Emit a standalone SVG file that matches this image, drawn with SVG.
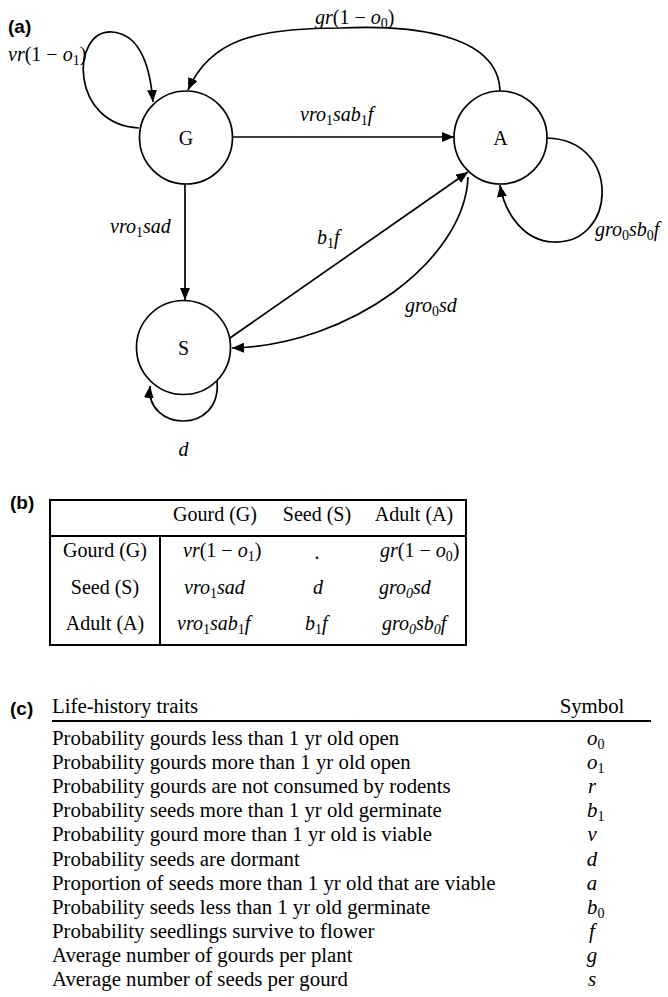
<svg xmlns="http://www.w3.org/2000/svg" width="668" height="997" viewBox="0 0 668 997">
<style>
.t{font-family:"Liberation Serif","Times New Roman",serif;font-size:20px;fill:#000}
.c{font-family:"Liberation Serif","Times New Roman",serif;font-size:20.8px;fill:#000}
.i{font-style:italic}
.lbl{font-family:"Liberation Sans",Arial,sans-serif;font-weight:bold;font-size:19px;fill:#000}
.node{fill:#fff;stroke:#000;stroke-width:1.7}
.edge{fill:none;stroke:#000;stroke-width:1.7}
.rule{stroke:#000;stroke-width:2;fill:none}
.sub{font-size:14px;font-style:normal}
.subi{font-size:14px;font-style:italic}
</style>
<defs>
<marker id="ah" markerUnits="userSpaceOnUse" markerWidth="12" markerHeight="10" refX="12" refY="5" orient="auto">
<path d="M0,0 L12,5 L0,10 z" fill="#000"/>
</marker>
</defs>
<rect width="668" height="997" fill="#fff"/>

<!-- (a) -->
<text class="lbl" x="8" y="33">(a)</text>

<g id="connectors">
<path class="edge" d="M233,137 L454,137" marker-end="url(#ah)"/>
<path class="edge" d="M185,184 L185,300" marker-end="url(#ah)"/>
<path class="edge" d="M230,338 L468,172" marker-end="url(#ah)"/>
<path class="edge" d="M468,177 C465,260 350,345 232,348" marker-end="url(#ah)"/>
<path class="edge" d="M500,91 C498,30 400,25 340,28 C255,28 210,40 188,90" marker-end="url(#ah)"/>
<path class="edge" d="M139,128 C70,125 70,30 112,32 C140,34 150,65 153,102" marker-end="url(#ah)"/>
<path class="edge" d="M547,138 C622,140 617,245 553,242 C525,241 505,215 500,185" marker-end="url(#ah)"/>
<path class="edge" d="M217,381 C222,435 145,432 150,386" marker-end="url(#ah)"/>
</g>

<g id="node-G">
<circle class="node" cx="186" cy="137.5" r="46.5"/>
<text class="t" x="186" y="144.5" text-anchor="middle">G</text>
</g>
<g id="node-A">
<circle class="node" cx="500.5" cy="137.5" r="46.5"/>
<text class="t" x="500.5" y="144.5" text-anchor="middle">A</text>
</g>
<g id="node-S">
<circle class="node" cx="183.5" cy="347.5" r="47"/>
<text class="t" x="183.5" y="355" text-anchor="middle">S</text>
</g>

<g id="edge-labels">
<text class="t" x="8" y="61"><tspan class="i">vr</tspan>(1 − <tspan class="i">o</tspan><tspan class="sub" dy="4">1</tspan><tspan dy="-4">)</tspan></text>
<text class="t" x="315" y="24"><tspan class="i">gr</tspan>(1 − <tspan class="i">o</tspan><tspan class="sub" dy="4">0</tspan><tspan dy="-4">)</tspan></text>
<text class="t i" x="300" y="121">vro<tspan class="sub" dy="4">1</tspan><tspan dy="-4">sab</tspan><tspan class="sub" dy="4">1</tspan><tspan dy="-4">f</tspan></text>
<text class="t i" x="110" y="233">vro<tspan class="sub" dy="4">1</tspan><tspan dy="-4">sad</tspan></text>
<text class="t i" x="317" y="244">b<tspan class="sub" dy="4">1</tspan><tspan dy="-4">f</tspan></text>
<text class="t i" x="595" y="236">gro<tspan class="sub" dy="4">0</tspan><tspan dy="-4">sb</tspan><tspan class="sub" dy="4">0</tspan><tspan dy="-4">f</tspan></text>
<text class="t i" x="405" y="312">gro<tspan class="sub" dy="4">0</tspan><tspan dy="-4">sd</tspan></text>
<text class="t i" x="183.5" y="456" text-anchor="middle">d</text>
</g>

<!-- (b) -->
<g id="table-b">
<text class="lbl" x="10" y="509">(b)</text>
<rect class="rule" x="50" y="500" width="416" height="145"/>
<line class="rule" x1="50" y1="536" x2="466" y2="536"/>
<line class="rule" x1="160" y1="536" x2="160" y2="645"/>
<text class="t" x="215" y="521" text-anchor="middle">Gourd (G)</text>
<text class="t" x="317" y="521" text-anchor="middle">Seed (S)</text>
<text class="t" x="414" y="521" text-anchor="middle">Adult (A)</text>
<text class="t" x="105" y="557" text-anchor="middle">Gourd (G)</text>
<text class="t" x="105" y="594" text-anchor="middle">Seed (S)</text>
<text class="t" x="105" y="630" text-anchor="middle">Adult (A)</text>
<text class="t" x="183" y="557"><tspan class="i">vr</tspan>(1 − <tspan class="i">o</tspan><tspan class="sub" dy="4">1</tspan><tspan dy="-4">)</tspan></text>
<text class="t" x="317" y="559" text-anchor="middle">.</text>
<text class="t" x="380" y="557"><tspan class="i">gr</tspan>(1 − <tspan class="i">o</tspan><tspan class="sub" dy="4">0</tspan><tspan dy="-4">)</tspan></text>
<text class="t i" x="184" y="594">vro<tspan class="sub" dy="4">1</tspan><tspan dy="-4">sad</tspan></text>
<text class="t i" x="318" y="594" text-anchor="middle">d</text>
<text class="t i" x="379" y="594">gro<tspan class="subi" dy="4">0</tspan><tspan dy="-4">sd</tspan></text>
<text class="t i" x="177" y="630">vro<tspan class="sub" dy="4">1</tspan><tspan dy="-4">sab</tspan><tspan class="sub" dy="4">1</tspan><tspan dy="-4">f</tspan></text>
<text class="t i" x="305" y="630">b<tspan class="sub" dy="4">1</tspan><tspan dy="-4">f</tspan></text>
<text class="t i" x="382" y="630">gro<tspan class="subi" dy="4">0</tspan><tspan dy="-4">sb</tspan><tspan class="subi" dy="4">0</tspan><tspan dy="-4">f</tspan></text>
</g>

<!-- (c) -->
<g id="table-c">
<text class="lbl" x="10" y="715">(c)</text>
<text class="c" x="52" y="713">Life-history traits</text>
<text class="c" x="592" y="713" text-anchor="middle">Symbol</text>
<line class="rule" x1="52" y1="721" x2="651" y2="721"/>
<text class="c" x="52" y="745">Probability gourds less than 1 yr old open</text>
<text class="c" x="52" y="769.1">Probability gourds more than 1 yr old open</text>
<text class="c" x="52" y="793.2">Probability gourds are not consumed by rodents</text>
<text class="c" x="52" y="817.3">Probability seeds more than 1 yr old germinate</text>
<text class="c" x="52" y="841.4">Probability gourd more than 1 yr old is viable</text>
<text class="c" x="52" y="865.5">Probability seeds are dormant</text>
<text class="c" x="52" y="889.6">Proportion of seeds more than 1 yr old that are viable</text>
<text class="c" x="52" y="913.7">Probability seeds less than 1 yr old germinate</text>
<text class="c" x="52" y="937.8">Probability seedlings survive to flower</text>
<text class="c" x="52" y="961.9">Average number of gourds per plant</text>
<text class="c" x="52" y="986">Average number of seeds per gourd</text>
<text class="c" x="587" y="745"><tspan class="i">o</tspan><tspan class="sub" dy="4">0</tspan></text>
<text class="c" x="587" y="769.1"><tspan class="i">o</tspan><tspan class="sub" dy="4">1</tspan></text>
<text class="c i" x="592" y="793.2" text-anchor="middle">r</text>
<text class="c" x="587" y="817.3"><tspan class="i">b</tspan><tspan class="sub" dy="4">1</tspan></text>
<text class="c i" x="592" y="841.4" text-anchor="middle">v</text>
<text class="c i" x="592" y="865.5" text-anchor="middle">d</text>
<text class="c i" x="592" y="889.6" text-anchor="middle">a</text>
<text class="c" x="587" y="913.7"><tspan class="i">b</tspan><tspan class="sub" dy="4">0</tspan></text>
<text class="c i" x="592" y="937.8" text-anchor="middle">f</text>
<text class="c i" x="592" y="961.9" text-anchor="middle">g</text>
<text class="c i" x="592" y="986" text-anchor="middle">s</text>
</g>
</svg>
